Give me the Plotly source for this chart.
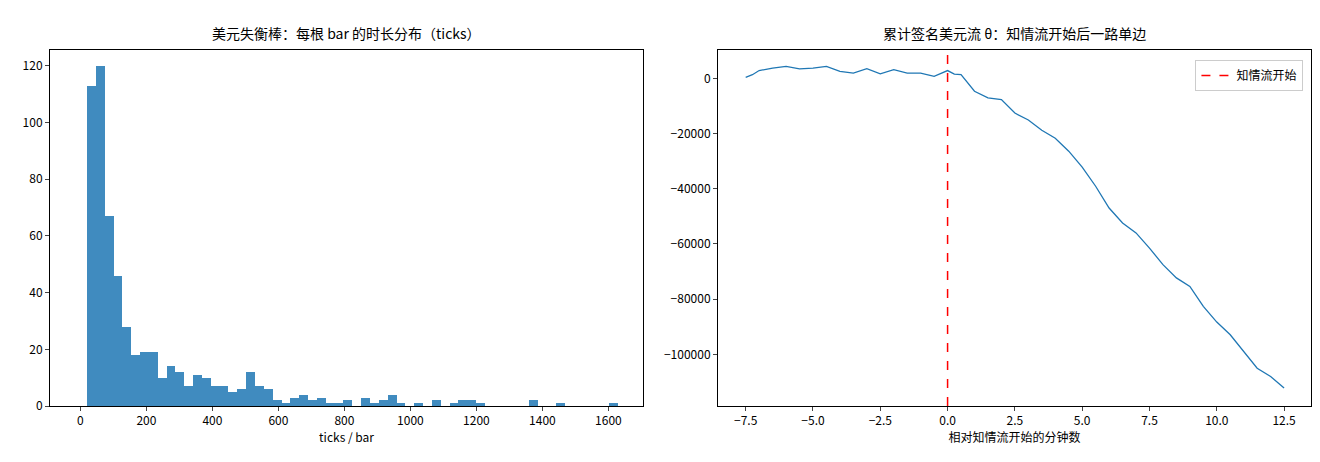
import numpy as np
import plotly.graph_objects as go

# Histogram data
bin_start = 20.0
bin_width = 26.8
counts = [113,120,67,46,28,18,19,19,10,14,12,7,11,10,7,7,5,6,12,7,
          6,2,1,3,4,2,3,1,1,2,0,3,1,2,4,1,0,1,0,2,
          0,1,2,2,1,0,0,0,0,0,2,0,0,1,0,0,0,0,0,1]

# Cumulative flow data
minutes = [-7.5,-7.25,-7,-6.5,-6,-5.5,-5,-4.5,-4,-3.5,-3,-2.5,-2,-1.5,-1,-0.5,0,0.25,0.5,
           1,1.5,2,2.5,3,3.5,4,4.5,5,5.5,6,6.5,7,7.5,8,8.5,9,9.5,10,10.5,11,11.5,12,12.5]
theta = [360,1300,2800,3700,4300,3400,3700,4300,2500,1900,3500,1600,3100,1900,1900,700,2800,1500,1300,
         -4700,-7100,-7700,-12600,-15100,-18800,-21700,-26400,-32200,-39100,-47000,-52400,-56000,
         -61500,-67500,-72300,-75400,-82600,-88300,-92900,-98900,-105000,-108000,-112200]

edges = bin_start + bin_width*np.arange(len(counts)+1)
centers = (edges[:-1]+edges[1:])/2

FONT = "Noto Sans CJK SC"
fig = go.Figure()
fig.add_trace(go.Bar(x=centers, y=counts, width=bin_width, marker=dict(color="rgba(31,119,180,0.85)", line=dict(width=0)),
                     xaxis="x", yaxis="y", showlegend=False))
fig.add_trace(go.Scatter(x=minutes, y=theta, mode="lines", line=dict(color="#1f77b4", width=1.3),
                         xaxis="x2", yaxis="y2", showlegend=False))
fig.add_trace(go.Scatter(x=[0,0], y=[-118700,10250], mode="lines", line=dict(color="red", width=1.5, dash="dash"),
                         xaxis="x2", yaxis="y2", name="知情流开始"))

ax = dict(showline=True, linecolor="black", linewidth=1, mirror=True, ticks="outside", ticklen=4,
          showgrid=False, zeroline=False, tickfont=dict(size=12, color="black"), automargin=False)
fig.update_layout(
    width=1320, height=462, margin=dict(l=42, r=17, t=42, b=64),
    plot_bgcolor="white", paper_bgcolor="white",
    font=dict(family=FONT, color="black"),
    bargap=0,
    xaxis=dict(**ax, domain=[0,0.4703], range=[-92,1705], dtick=200,
               title=dict(text="ticks / bar", font=dict(size=12), standoff=4)),
    yaxis=dict(**ax, domain=[0,1], range=[0,125.6], dtick=20, anchor="x"),
    xaxis2=dict(**ax, domain=[0.5297,1.0], range=[-8.53,13.5], dtick=2.5, tickformat=".1f", anchor="y2",
                title=dict(text="相对知情流开始的分钟数", font=dict(size=12), standoff=4)),
    yaxis2=dict(**ax, domain=[0,1], range=[-118700,10250], dtick=20000, anchor="x2", tickformat="d"),
    legend=dict(x=0.994, y=0.972, xanchor="right", yanchor="top", bordercolor="#cccccc", borderwidth=1,
                font=dict(size=12), bgcolor="white"),
    annotations=[
        dict(text="美元失衡棒：每根 bar 的时长分布（ticks）", x=0.235, y=1.048, xref="paper", yref="paper",
             showarrow=False, font=dict(size=14), xanchor="center", yanchor="middle"),
        dict(text="累计签名美元流 θ：知情流开始后一路单边", x=0.765, y=1.048, xref="paper", yref="paper",
             showarrow=False, font=dict(size=14), xanchor="center", yanchor="middle"),
    ],
)
fig.write_html("out.html")
